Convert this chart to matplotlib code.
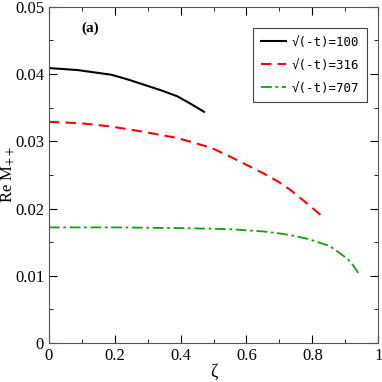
import numpy as np
import matplotlib.pyplot as plt

# curve points
z100 = [0.0, 0.088, 0.19, 0.24, 0.29, 0.34, 0.39, 0.43, 0.471]
m100 = [0.0409, 0.0406, 0.0399, 0.0392, 0.0384, 0.0376, 0.0367, 0.0356, 0.0344]

z316 = [0.0, 0.095, 0.19, 0.29, 0.39, 0.44, 0.495, 0.56, 0.651, 0.697, 0.733, 0.783, 0.829]
m316 = [0.0329, 0.0327, 0.0322, 0.0314, 0.0305, 0.0298, 0.0290, 0.0275, 0.02525, 0.0240,
        0.0228, 0.0208, 0.0189]

z707 = [0.0, 0.2, 0.39, 0.5, 0.56, 0.65, 0.702, 0.75, 0.793, 0.854, 0.905, 0.925, 0.945]
m707 = [0.0172, 0.0172, 0.0171, 0.0170, 0.0169, 0.0166, 0.0163, 0.0159, 0.0154, 0.0144,
        0.0126, 0.0115, 0.0100]

labels = ['√(-t)=100', '√(-t)=316', '√(-t)=707']
xticks = [0, 0.2, 0.4, 0.6, 0.8, 1.0]
xtick_labels = ['0', '0.2', '0.4', '0.6', '0.8', '1']
yticks = [0, 0.01, 0.02, 0.03, 0.04, 0.05]
ytick_labels = ['0', '0.01', '0.02', '0.03', '0.04', '0.05']

plt.rcParams['font.family'] = 'serif'
plt.rcParams['font.serif'] = ['Liberation Serif', 'DejaVu Serif']
plt.rcParams['mathtext.fontset'] = 'stix'

fig = plt.figure(figsize=(3.82, 3.82), dpi=100)
ax = fig.add_axes([0.128, 0.102, 0.862, 0.88])

ax.plot(z100, m100, color='black', lw=1.5, label=labels[0])
ax.plot(z316, m316, color='red', lw=1.5, ls=(0, (5, 3)), label=labels[1])
ax.plot(z707, m707, color='#10a010', lw=1.3, ls=(0, (6, 2, 1.5, 2)), label=labels[2])

ax.set_xlim(0, 1)
ax.set_ylim(0, 0.05)
ax.set_xticks(xticks, xtick_labels)
ax.set_xticks(np.arange(0.1, 1.0, 0.2), minor=True)
ax.set_yticks(yticks, ytick_labels)
ax.set_yticks(np.arange(0.005, 0.05, 0.01), minor=True)
ax.tick_params(which='both', direction='in', top=True, right=True, labelsize=12)
ax.tick_params(which='major', length=6)
ax.tick_params(which='minor', length=3)
for s in ax.spines.values():
    s.set_color('#555555')

ax.set_xlabel('ζ', fontsize=13, labelpad=0)
ax.set_ylabel('Re M$_{++}$', fontsize=12)
ax.yaxis.set_label_coords(-0.097, 0.5)
ax.text(0.10, 0.935, '(a)', transform=ax.transAxes, fontsize=11,
        fontweight='bold', va='center')

leg = ax.legend(loc='upper right', bbox_to_anchor=(0.985, 0.955),
                prop={'family': 'DejaVu Sans Mono', 'size': 9},
                fancybox=False, framealpha=1, edgecolor='#444444',
                handlelength=2.0, handletextpad=0.5, borderpad=0.6, labelspacing=0.8)
leg.get_frame().set_linewidth(0.8)

fig.savefig('out.png', dpi=100)
